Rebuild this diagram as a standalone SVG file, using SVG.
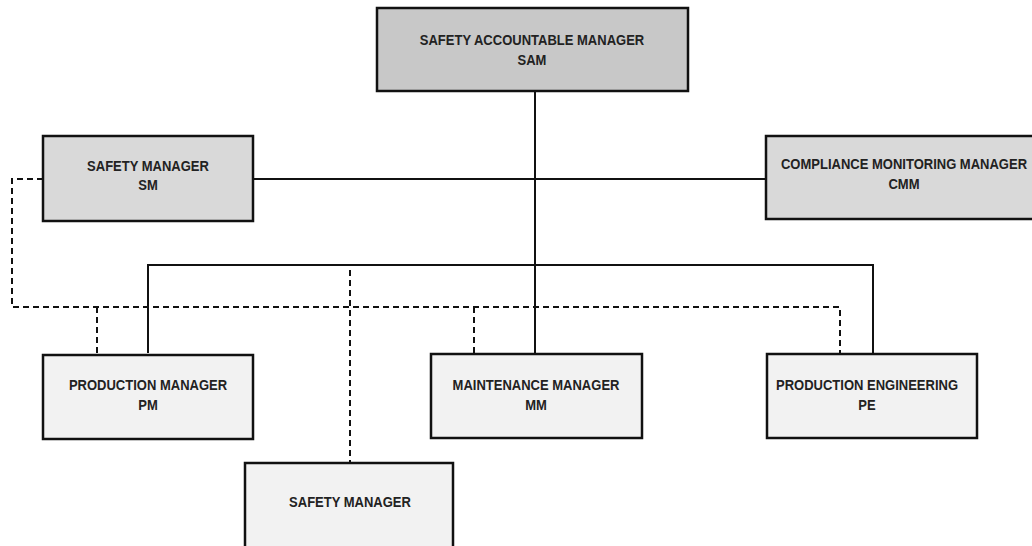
<svg xmlns="http://www.w3.org/2000/svg" width="1032" height="546" viewBox="0 0 1032 546">
<style>
.box{stroke:#111;stroke-width:2.5}
.dark{fill:#c8c8c8}
.mid{fill:#d9d9d9}
.light{fill:#f2f2f2}
.t{font-family:"Liberation Sans",Arial,sans-serif;font-weight:bold;font-size:15.5px;fill:#222;text-anchor:middle}
.solid{fill:none;stroke:#111;stroke-width:2}
.dash{fill:none;stroke:#111;stroke-width:2;stroke-dasharray:6 4}
</style>
<rect width="1032" height="546" fill="#fff"/>
<g id="connectors">
<path class="solid" d="M535 91 V353"/>
<path class="solid" d="M253 179 H766"/>
<path class="solid" d="M148 353 V265 H873 V353"/>
<path class="dash" d="M43 179 H12 V307 H840 V353"/>
<path class="dash" d="M97 307 V353"/>
<path class="dash" d="M474 307 V353"/>
<path class="dash" d="M350 270 V462"/>
</g>
<g id="sam">
<rect class="box dark" x="377" y="8" width="311" height="83"/>
<text class="t" transform="matrix(0.84,0,0,1,532,0)" y="45">SAFETY ACCOUNTABLE MANAGER</text>
<text class="t" transform="matrix(0.84,0,0,1,532,0)" y="65">SAM</text>
</g>
<g id="sm">
<rect class="box mid" x="43" y="136" width="210" height="85"/>
<text class="t" transform="matrix(0.84,0,0,1,148,0)" y="171">SAFETY MANAGER</text>
<text class="t" transform="matrix(0.84,0,0,1,148,0)" y="190">SM</text>
</g>
<g id="cmm">
<rect class="box mid" x="766" y="136" width="280" height="83"/>
<text class="t" transform="matrix(0.84,0,0,1,904,0)" y="169">COMPLIANCE MONITORING MANAGER</text>
<text class="t" transform="matrix(0.84,0,0,1,904,0)" y="189">CMM</text>
</g>
<g id="pm">
<rect class="box light" x="43" y="355" width="210" height="84"/>
<text class="t" transform="matrix(0.84,0,0,1,148,0)" y="390">PRODUCTION MANAGER</text>
<text class="t" transform="matrix(0.84,0,0,1,148,0)" y="410">PM</text>
</g>
<g id="mm">
<rect class="box light" x="431" y="354" width="211" height="84"/>
<text class="t" transform="matrix(0.84,0,0,1,536,0)" y="390">MAINTENANCE MANAGER</text>
<text class="t" transform="matrix(0.84,0,0,1,536,0)" y="410">MM</text>
</g>
<g id="pe">
<rect class="box light" x="767" y="354" width="210" height="84"/>
<text class="t" transform="matrix(0.84,0,0,1,867,0)" y="390">PRODUCTION ENGINEERING</text>
<text class="t" transform="matrix(0.84,0,0,1,867,0)" y="410">PE</text>
</g>
<g id="safety-manager">
<rect class="box light" x="245" y="463" width="208" height="100"/>
<text class="t" transform="matrix(0.84,0,0,1,350,0)" y="507">SAFETY MANAGER</text>
</g>
</svg>
